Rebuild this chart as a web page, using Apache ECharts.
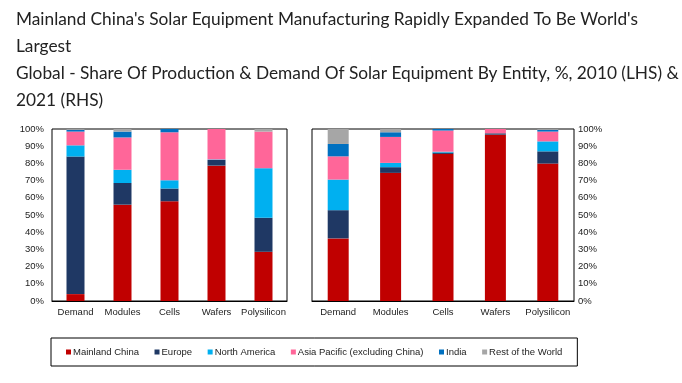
<!DOCTYPE html>
<html>
<head>
<meta charset="utf-8">
<script src="https://cdn.jsdelivr.net/npm/echarts@6/dist/echarts.min.js"></script>
<style>
  html, body { margin: 0; padding: 0; background: #fff; }
  #chart { width: 682px; height: 383px; }
</style>
</head>
<body>
<div id="chart"></div>
<script>
// ---- Data ----
const categories = ['Demand', 'Modules', 'Cells', 'Wafers', 'Polysilicon'];
const entities = ['Mainland China', 'Europe', 'North America', 'Asia Pacific (excluding China)', 'India', 'Rest of the World'];
const yTicks = [0, 10, 20, 30, 40, 50, 60, 70, 80, 90, 100];

// 2010 (LHS), % share per category
const china2010        = [4, 56, 58, 78.7, 28.6];
const europe2010       = [80, 12.6, 7.4, 3.3, 19.8];
const northAmerica2010 = [6.5, 7.7, 4.8, 0.3, 28.8];
const asiaPac2010      = [8, 18.8, 27.9, 17.7, 21.3];
const india2010        = [1, 3.4, 1.9, 0, 0];
const rest2010         = [0.5, 1.5, 0, 0, 1.5];

// 2021 (RHS), % share per category
const china2021        = [36.4, 74.5, 85.5, 96.7, 79.9];
const europe2021       = [16.4, 3.3, 0.8, 0.8, 7.1];
const northAmerica2021 = [17.8, 2.5, 0.5, 0, 5.8];
const asiaPac2021      = [13.5, 15.1, 12.3, 2.5, 5.7];
const india2021        = [7.2, 2.7, 0.9, 0, 1];
const rest2021         = [8.7, 1.9, 0.4, 0, 0.5];

const titleLines = [
  "Mainland China's Solar Equipment Manufacturing Rapidly Expanded To Be World's",
  "Largest",
  "Global - Share Of Production & Demand Of Solar Equipment By Entity, %, 2010 (LHS) &",
  "2021 (RHS)"
];

// ---- Styling ----
const colors = ['#C00000', '#1F3864', '#00B0F0', '#FF6699', '#0070C0', '#A6A6A6'];
const data2010 = [china2010, europe2010, northAmerica2010, asiaPac2010, india2010, rest2010];
const data2021 = [china2021, europe2021, northAmerica2021, asiaPac2021, india2021, rest2021];
const axisFont = { fontFamily: 'Arial, "Liberation Sans", sans-serif', fontSize: 9.5, color: '#222' };

const series = [];
entities.forEach((name, i) => {
  series.push({
    name, type: 'bar', stack: 'y2010', xAxisIndex: 0, yAxisIndex: 0,
    data: data2010[i], barWidth: 18, itemStyle: { color: colors[i] }
  });
});
entities.forEach((name, i) => {
  series.push({
    name, type: 'bar', stack: 'y2021', xAxisIndex: 1, yAxisIndex: 1,
    data: data2021[i], barWidth: 21, itemStyle: { color: colors[i] }
  });
});

const yAxisBase = {
  type: 'value', min: yTicks[0], max: yTicks[yTicks.length - 1], interval: yTicks[1] - yTicks[0],
  splitLine: { show: false }, axisTick: { show: false },
  axisLine: { show: false },
  axisLabel: Object.assign({ formatter: '{value}%' }, axisFont)
};
const xAxisBase = {
  type: 'category', data: categories,
  axisTick: { show: false },
  axisLine: { show: true, lineStyle: { color: '#000', width: 1 } },
  axisLabel: Object.assign({ margin: 6, interval: 0 }, axisFont)
};

const chart = echarts.init(document.getElementById('chart'), null, { renderer: 'canvas' });
chart.setOption({
  animation: false,
  backgroundColor: '#fff',
  title: {
    text: titleLines.join('\n'),
    left: 16, top: 6, padding: 0,
    textStyle: { fontFamily: 'Lato', fontSize: 17.3, fontWeight: 'normal', color: '#222', lineHeight: 27 }
  },
  grid: [
    { left: 52, top: 129, width: 235, height: 172, show: true, borderColor: '#000', borderWidth: 1, backgroundColor: 'transparent' },
    { left: 312, top: 129, width: 262, height: 172, show: true, borderColor: '#000', borderWidth: 1, backgroundColor: 'transparent' }
  ],
  xAxis: [
    Object.assign({ gridIndex: 0 }, xAxisBase),
    Object.assign({ gridIndex: 1 }, xAxisBase)
  ],
  yAxis: [
    Object.assign({ gridIndex: 0, position: 'left' }, yAxisBase, { axisLabel: Object.assign({}, yAxisBase.axisLabel, { margin: 8 }) }),
    Object.assign({ gridIndex: 1, position: 'right' }, yAxisBase, { axisLabel: Object.assign({}, yAxisBase.axisLabel, { margin: 4 }) })
  ],
  legend: {
    data: entities,
    left: 51, top: 338,
    padding: [9, 15, 9, 15],
    borderColor: '#000', borderWidth: 1,
    itemWidth: 5, itemHeight: 5, itemGap: 15.5,
    icon: 'rect',
    selectedMode: false,
    textStyle: Object.assign({}, axisFont, { fontSize: 9.5, padding: [0, 0, 0, -3] })
  },
  series
});
</script>
</body>
</html>
